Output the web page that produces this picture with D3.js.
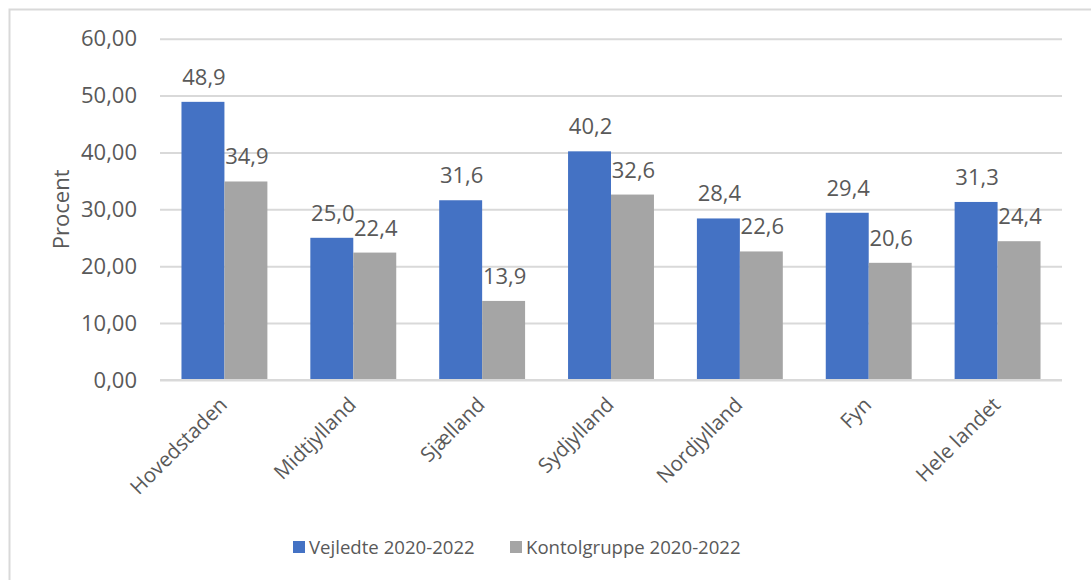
<!DOCTYPE html>
<html>
<head>
<meta charset="utf-8">
<script src="https://cdn.jsdelivr.net/npm/d3@7"></script>
<style>
  html, body { margin: 0; padding: 0; background: #fff; }
  svg { display: block; }
  text { font-family: "Open Sans", sans-serif; fill: #595959; }
</style>
</head>
<body>
<svg id="chart" width="1091" height="580"></svg>
<script>
const categories = ["Hovedstaden", "Midtjylland", "Sjælland", "Sydjylland", "Nordjylland", "Fyn", "Hele landet"];
const seriesNames = ["Vejledte 2020-2022", "Kontolgruppe 2020-2022"];
const vejledte = [48.9, 25.0, 31.6, 40.2, 28.4, 29.4, 31.3];
const kontrol = [34.9, 22.4, 13.9, 32.6, 22.6, 20.6, 24.4];
const yTicks = [0, 10, 20, 30, 40, 50, 60];
const colors = ["#4472C4", "#A5A5A5"];

const svg = d3.select("#chart");
const W = 1091, H = 580;
const plot = { left: 160, right: 1062, top: 38.7, bottom: 380 };

// frame
svg.append("path")
  .attr("d", `M9.5,${H + 5} L9.5,9.5 L${W + 5},9.5`)
  .attr("fill", "none").attr("stroke", "#D9D9D9").attr("stroke-width", 2);

const y = d3.scaleLinear().domain([0, 60]).range([plot.bottom, plot.top]);
const x = d3.scaleBand().domain(categories).range([plot.left, plot.right])
  .paddingInner(1/3).paddingOuter(1/6);
const xs = d3.scaleBand().domain([0, 1]).range([0, x.bandwidth()]).padding(0);

const fmt = v => d3.format(".2f")(v).replace(".", ",");
const fmt1 = v => d3.format(".1f")(v).replace(".", ",");

// gridlines + y labels
const yAxis = d3.axisLeft(y).tickValues(yTicks).tickSize(-(plot.right - plot.left)).tickFormat(fmt).tickPadding(23);
const gy = svg.append("g").attr("transform", `translate(${plot.left},0)`).call(yAxis);
gy.select(".domain").remove();
gy.selectAll(".tick line").attr("stroke", "#D9D9D9").attr("stroke-width", 2);
gy.selectAll(".tick text").attr("font-size", 22).attr("fill", "#595959")
  .style("font-family", '"Open Sans", sans-serif');

// bars
const data = categories.map((c, i) => ({ c, vals: [vejledte[i], kontrol[i]] }));
const groups = svg.append("g").selectAll("g").data(data).join("g")
  .attr("transform", d => `translate(${x(d.c)},0)`);
groups.selectAll("rect").data(d => d.vals.map((v, k) => ({ v, k }))).join("rect")
  .attr("x", d => xs(d.k)).attr("width", xs.bandwidth())
  .attr("y", d => y(d.v)).attr("height", d => y(0) - y(d.v))
  .attr("fill", d => colors[d.k]);
groups.selectAll("text.lbl").data(d => d.vals.map((v, k) => ({ v, k }))).join("text")
  .attr("class", "lbl")
  .attr("x", d => xs(d.k) + xs.bandwidth() / 2 + 1)
  .attr("y", d => y(d.v) - 17)
  .attr("text-anchor", "middle").attr("font-size", 22)
  .text(d => fmt1(d.v));

// x axis baseline
svg.append("line").attr("x1", plot.left).attr("x2", plot.right)
  .attr("y1", y(0)).attr("y2", y(0)).attr("stroke", "#D9D9D9").attr("stroke-width", 2);

// category labels
svg.append("g").selectAll("text").data(categories).join("text")
  .attr("transform", d => `translate(${x(d) + x.bandwidth() / 2 + 4},${plot.bottom + 26}) rotate(-45)`)
  .attr("text-anchor", "end").attr("font-size", 20.5)
  .text(d => d);

// y title
svg.append("text")
  .attr("transform", `translate(69,${(plot.top + plot.bottom) / 2}) rotate(-90)`)
  .attr("text-anchor", "middle").attr("font-size", 22)
  .text("Procent");

// legend
const legendX = [293, 510];
const lg = svg.append("g").selectAll("g").data(seriesNames).join("g")
  .attr("transform", (d, i) => `translate(${legendX[i]},541)`);
lg.append("rect").attr("width", 12).attr("height", 12).attr("fill", (d, i) => colors[i]);
lg.append("text").attr("x", 16).attr("y", 13).attr("font-size", 18.6).text(d => d);
</script>
</body>
</html>
